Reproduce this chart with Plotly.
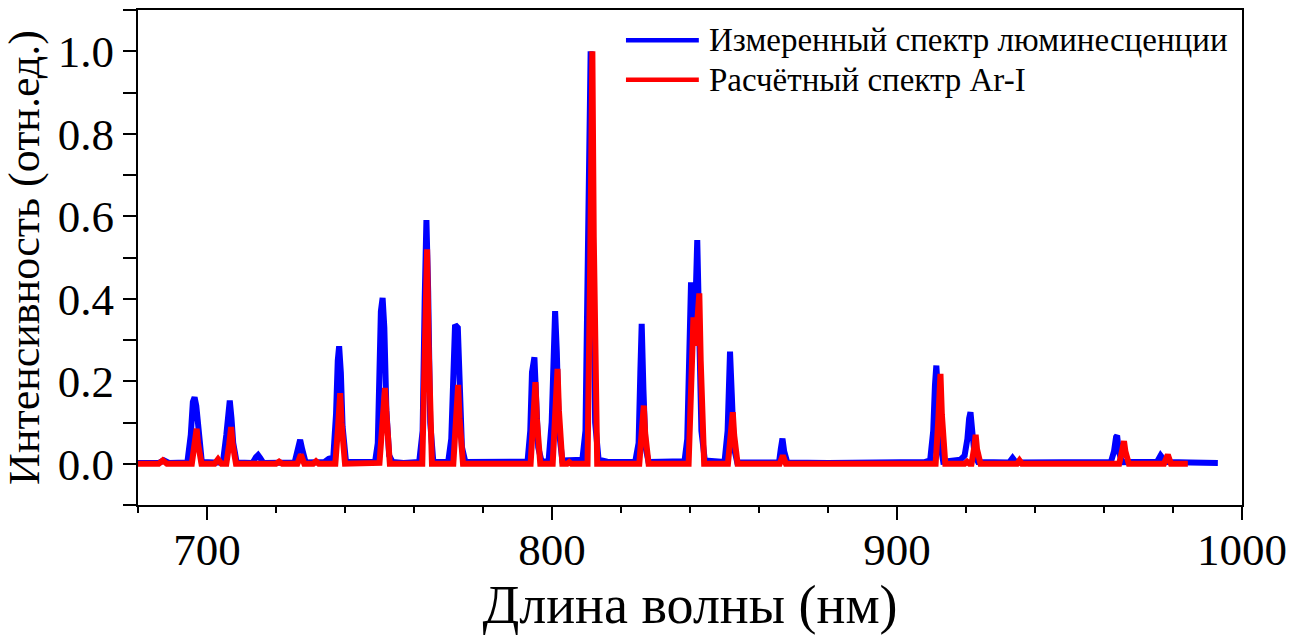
import plotly.graph_objects as go

# Measured luminescence spectrum (wavelength nm, normalised intensity)
meas_wl = [
    680.0, 686.0, 687.5, 689.0,
    694.3, 695.3, 695.9, 696.4, 696.9, 697.5, 698.5, 702.0,
    704.6, 705.6, 706.2, 706.6, 707.1, 707.6, 708.6,
    713.2, 714.2, 714.8, 715.4, 716.3,
    725.4, 726.4, 727.0, 727.6, 728.6,
    734.0, 735.3, 736.6, 737.4, 737.9, 738.3, 738.8, 739.3, 740.3, 744.0,
    748.7, 749.5, 750.0, 750.4, 750.9, 751.4, 752.0, 752.8, 753.8, 757.0,
    761.5, 762.5, 763.1, 763.6, 764.1, 764.7, 765.6,
    769.9, 770.8, 771.4, 771.9, 772.7, 773.2, 773.9, 774.9, 790.0,
    792.9, 793.7, 794.2, 794.9, 795.4, 796.0, 797.0,
    799.0, 799.9, 800.5, 800.9, 801.4, 802.0, 803.0,
    806.0, 808.8, 809.7, 810.5, 811.2, 811.8, 812.5, 813.5, 816.0,
    824.1, 825.1, 825.6, 826.0, 826.5, 827.1, 828.0,
    838.4, 839.2, 839.8, 840.3, 840.9, 841.4, 842.1, 842.7, 843.3, 844.3,
    850.0, 850.9, 851.3, 851.6, 852.1, 852.7, 853.7,
    865.8, 866.3, 866.8, 867.3, 868.2, 880.0,
    908.0, 909.6, 910.5, 911.0, 911.4, 911.9, 912.5, 913.4,
    918.4, 919.6, 920.4, 920.9, 921.3, 921.8, 922.5, 923.5,
    932.5, 933.5, 934.5,
    962.0, 962.9, 963.5, 963.8, 964.3, 965.2,
    975.4, 976.4, 977.3, 978.2, 985.0, 993.0,
]
meas_int = [
    0.002, 0.002, 0.008, 0.002,
    0.003, 0.070, 0.150, 0.161, 0.140, 0.070, 0.004, 0.003,
    0.003, 0.070, 0.145, 0.153, 0.110, 0.050, 0.003,
    0.002, 0.016, 0.021, 0.014, 0.002,
    0.003, 0.035, 0.058, 0.035, 0.003,
    0.004, 0.012, 0.015, 0.120, 0.250, 0.285, 0.220, 0.090, 0.004, 0.003,
    0.004, 0.050, 0.300, 0.370, 0.402, 0.330, 0.130, 0.020, 0.004, 0.002,
    0.004, 0.080, 0.400, 0.591, 0.420, 0.100, 0.005,
    0.004, 0.060, 0.290, 0.337, 0.330, 0.200, 0.040, 0.004, 0.003,
    0.005, 0.080, 0.222, 0.258, 0.160, 0.040, 0.005,
    0.006, 0.100, 0.320, 0.370, 0.270, 0.080, 0.008,
    0.008, 0.010, 0.080, 0.550, 1.000, 0.600, 0.100, 0.010, 0.005,
    0.004, 0.050, 0.220, 0.339, 0.180, 0.040, 0.004,
    0.006, 0.060, 0.380, 0.440, 0.360, 0.330, 0.542, 0.320, 0.080, 0.008,
    0.004, 0.080, 0.220, 0.272, 0.170, 0.040, 0.003,
    0.003, 0.035, 0.061, 0.030, 0.003, 0.002,
    0.004, 0.008, 0.080, 0.190, 0.238, 0.170, 0.050, 0.005,
    0.010, 0.020, 0.060, 0.110, 0.125, 0.080, 0.020, 0.004,
    0.003, 0.014, 0.003,
    0.004, 0.030, 0.065, 0.068, 0.030, 0.004,
    0.005, 0.020, 0.010, 0.004, 0.003, 0.002,
]

# Calculated Ar-I spectrum
calc_wl = [
    680.0, 686.0, 687.2, 688.4,
    695.6, 696.4, 696.8, 697.0, 697.4, 698.4,
    702.2, 703.2, 704.2,
    705.6, 706.4, 706.8, 707.0, 707.4, 708.4,
    720.0, 720.9, 721.8,
    726.2, 727.2, 728.2,
    730.8, 731.6, 732.4,
    737.2, 738.0, 738.4, 738.6, 739.0, 740.0,
    750.0, 750.7, 751.1, 751.6, 752.1, 753.0,
    762.4, 763.2, 763.6, 763.8, 764.2, 765.2,
    771.4, 772.2, 772.6, 772.8, 773.2, 774.2,
    793.8, 794.6, 795.0, 795.2, 795.6, 796.6,
    800.2, 801.0, 801.4, 801.6, 802.0, 803.0,
    804.4, 805.0, 805.6,
    810.3, 811.1, 811.5, 811.7, 812.1, 813.1,
    825.3, 826.1, 826.5, 826.6, 827.0, 828.0,
    839.6, 840.4, 840.8, 841.0, 841.6, 842.3, 842.7, 843.1, 844.1,
    851.0, 851.8, 852.2, 852.4, 852.8, 853.8,
    866.0, 866.9, 867.8,
    911.2, 912.0, 912.4, 912.6, 913.0, 914.0,
    919.6, 920.3, 921.0,
    921.6, 922.4, 922.6, 922.8, 923.2, 924.2,
    934.8, 935.5, 936.2,
    964.4, 965.2, 965.6, 965.8, 966.2, 967.2,
    977.4, 978.3, 978.5, 979.4, 984.3,
]
calc_int = [
    0.0, 0.0, 0.008, 0.0,
    0.0, 0.040, 0.080, 0.085, 0.050, 0.0,
    0.0, 0.011, 0.0,
    0.0, 0.045, 0.085, 0.089, 0.050, 0.0,
    0.0, 0.005, 0.0,
    0.0, 0.022, 0.0,
    0.0, 0.006, 0.0,
    0.0, 0.090, 0.160, 0.171, 0.100, 0.0,
    0.002, 0.100, 0.170, 0.184, 0.110, 0.0,
    0.0, 0.260, 0.490, 0.520, 0.300, 0.0,
    0.0, 0.100, 0.180, 0.191, 0.110, 0.0,
    0.0, 0.100, 0.190, 0.198, 0.110, 0.0,
    0.0, 0.120, 0.220, 0.230, 0.130, 0.0,
    0.0, 0.004, 0.0,
    0.0, 0.500, 0.950, 1.000, 0.550, 0.0,
    0.0, 0.070, 0.135, 0.141, 0.075, 0.0,
    0.0, 0.180, 0.340, 0.355, 0.286, 0.370, 0.413, 0.250, 0.0,
    0.0, 0.060, 0.120, 0.125, 0.070, 0.0,
    0.0, 0.020, 0.0,
    0.0, 0.110, 0.210, 0.218, 0.120, 0.0,
    0.0, 0.005, 0.0,
    0.0, 0.040, 0.068, 0.070, 0.035, 0.0,
    0.0, 0.008, 0.0,
    0.0, 0.030, 0.053, 0.055, 0.030, 0.0,
    0.0, 0.020, 0.022, 0.0, 0.0,
]

series_names = ["Измеренный спектр люминесценции", "Расчётный спектр Ar-I"]
series_colors = ["#0000FF", "#FF0000"]

x_title = "Длина волны (нм)"
y_title = "Интенсивность (отн.ед.)"

FONT = "Liberation Serif"
LINE_W = 6

fig = go.Figure()
for wl, inten, name, color in [(meas_wl, meas_int, series_names[0], series_colors[0]),
                               (calc_wl, calc_int, series_names[1], series_colors[1])]:
    fig.add_trace(go.Scatter(x=wl, y=inten, mode="lines", name=name, showlegend=False,
                             line=dict(color=color, width=LINE_W)))

# Legend drawn as line samples with text next to them (upper right of the frame)
legend_rows_y = [0.939, 0.859]
for name, color, ly in zip(series_names, series_colors, legend_rows_y):
    fig.add_shape(type="line", xref="paper", yref="paper",
                  x0=0.442, x1=0.508, y0=ly, y1=ly,
                  line=dict(color=color, width=4.5))
    fig.add_annotation(xref="paper", yref="paper", x=0.515, y=ly,
                       xanchor="left", yanchor="middle", showarrow=False,
                       text=name, font=dict(family=FONT, size=33, color="black"))

axis_common = dict(
    showline=True, linecolor="black", linewidth=2, mirror=True,
    showgrid=False, zeroline=False,
    ticks="outside", tickcolor="black", tickwidth=2,
    tickfont=dict(family=FONT, size=45, color="black"),
)

fig.update_xaxes(
    range=[680, 1000], tickvals=[700, 800, 900, 1000], ticklen=13,
    ticklabelstandoff=-9,
    minor=dict(dtick=20, tick0=680, ticks="outside", ticklen=6, tickwidth=2, tickcolor="black"),
    title=dict(text=x_title, font=dict(family=FONT, size=54, color="black"), standoff=8),
    **axis_common,
)
fig.update_yaxes(
    range=[-0.1, 1.1], tickvals=[0.0, 0.2, 0.4, 0.6, 0.8, 1.0],
    ticktext=["0.0", "0.2", "0.4", "0.6", "0.8", "1.0"],
    ticklen=13,
    minor=dict(dtick=0.1, tick0=-0.1, ticks="outside", ticklen=13, tickwidth=2, tickcolor="black"),
    title=dict(text=y_title, font=dict(family=FONT, size=44, color="black"), standoff=4),
    **axis_common,
)

fig.update_layout(
    width=1302, height=639,
    margin=dict(l=138, r=60, t=8, b=134),
    plot_bgcolor="white", paper_bgcolor="white",
    showlegend=False,
)

fig.write_html("out.html")
